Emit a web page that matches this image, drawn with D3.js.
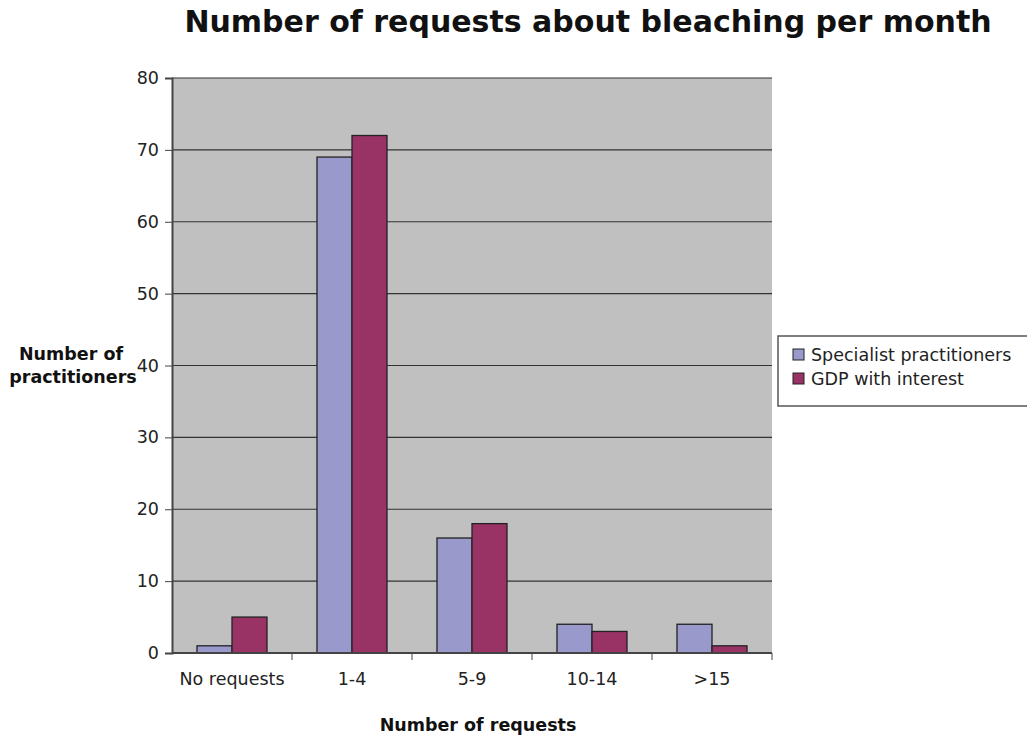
<!DOCTYPE html>
<html>
<head>
<meta charset="utf-8">
<script src="https://cdn.jsdelivr.net/npm/d3@7"></script>
<style>
  body { margin: 0; background: #fff; }
  text { font-family: "DejaVu Sans", Verdana, sans-serif; }
</style>
</head>
<body>
<div id="chart"></div>
<script>
// Data
var categories = ["No requests", "1-4", "5-9", "10-14", ">15"];
var seriesNames = ["Specialist practitioners", "GDP with interest"];
var specialist = [1, 69, 16, 4, 4];
var gdp = [5, 72, 18, 3, 1];
var yTicks = [0, 10, 20, 30, 40, 50, 60, 70, 80];
var colors = ["#9999CC", "#993366"];

var svgWidth = 1027;
var svgHeight = 736;

var margin = { top: 78, right: 255, bottom: 83, left: 172 };
var width = svgWidth - margin.left - margin.right;   // 600
var height = svgHeight - margin.top - margin.bottom; // 575

var svg = d3.select("#chart")
  .append("svg")
  .attr("width", svgWidth)
  .attr("height", svgHeight);

var chartGroup = svg.append("g")
  .attr("transform", `translate(${margin.left}, ${margin.top})`);

var rows = categories.map(function (c, i) {
  return { cat: c, values: [specialist[i], gdp[i]] };
});

// Scales
var x0 = d3.scaleBand()
  .domain(categories)
  .range([0, width]);

var x1 = d3.scaleBand()
  .domain([0, 1])
  .range([25, x0.bandwidth() - 25]);

var y = d3.scaleLinear()
  .domain([0, 80])
  .range([height, 0]);

// Plot background
chartGroup.append("rect")
  .attr("width", width)
  .attr("height", height)
  .attr("fill", "#C0C0C0");

// Gridlines
chartGroup.append("g")
  .selectAll("line")
  .data(yTicks.filter(d => d > 0))
  .enter()
  .append("line")
  .attr("x1", 0)
  .attr("x2", width)
  .attr("y1", d => y(d))
  .attr("y2", d => y(d))
  .attr("stroke", "#333")
  .attr("stroke-width", 1.2);

// Bars
var groups = chartGroup.selectAll("g.cat")
  .data(rows)
  .enter()
  .append("g")
  .attr("class", "cat")
  .attr("transform", d => `translate(${x0(d.cat)}, 0)`);

groups.selectAll("rect")
  .data(d => d.values)
  .enter()
  .append("rect")
  .attr("x", (d, i) => x1(i))
  .attr("y", d => y(d))
  .attr("width", x1.bandwidth())
  .attr("height", d => y(0) - y(d))
  .attr("fill", (d, i) => colors[i])
  .attr("stroke", "#222")
  .attr("stroke-width", 1.3);

// Y axis
var yAxis = d3.axisLeft(y)
  .tickValues(yTicks)
  .tickSize(7)
  .tickPadding(6);

var yAxisG = chartGroup.append("g")
  .call(yAxis);
yAxisG.select(".domain").attr("stroke", "#444").attr("stroke-width", 2);
yAxisG.selectAll(".tick line").attr("stroke", "#444");
yAxisG.selectAll(".tick text")
  .attr("font-size", 17.5)
  .attr("fill", "#222")
  .style("font-family", "DejaVu Sans, Verdana, sans-serif");

// X axis (ticks at category boundaries)
var xAxisG = chartGroup.append("g")
  .attr("transform", `translate(0, ${height})`);

xAxisG.append("line")
  .attr("x1", 0)
  .attr("x2", width)
  .attr("stroke", "#444")
  .attr("stroke-width", 2);

xAxisG.selectAll("line.tick")
  .data(categories)
  .enter()
  .append("line")
  .attr("class", "tick")
  .attr("x1", d => x0(d) + x0.bandwidth())
  .attr("x2", d => x0(d) + x0.bandwidth())
  .attr("y1", 0)
  .attr("y2", 7)
  .attr("stroke", "#444");

xAxisG.selectAll("text")
  .data(categories)
  .enter()
  .append("text")
  .attr("x", d => x0(d) + x0.bandwidth() / 2)
  .attr("y", 32)
  .attr("text-anchor", "middle")
  .attr("font-size", 17.5)
  .attr("fill", "#222")
  .text(d => d);

// Title
svg.append("text")
  .attr("x", 588)
  .attr("y", 32)
  .attr("text-anchor", "middle")
  .attr("font-size", 30)
  .attr("font-weight", "bold")
  .attr("fill", "#111")
  .text("Number of requests about bleaching per month");

// Axis titles
var yTitle = svg.append("text")
  .attr("text-anchor", "middle")
  .attr("font-size", 17.5)
  .attr("font-weight", "bold")
  .attr("fill", "#111");
yTitle.append("tspan").attr("x", 71).attr("y", 360).text("Number of");
yTitle.append("tspan").attr("x", 73).attr("y", 383).text("practitioners");

svg.append("text")
  .attr("x", 478)
  .attr("y", 731)
  .attr("text-anchor", "middle")
  .attr("font-size", 17.5)
  .attr("font-weight", "bold")
  .attr("fill", "#111")
  .text("Number of requests");

// Legend
var legend = svg.append("g")
  .attr("transform", "translate(778, 336)");

legend.append("rect")
  .attr("width", 260)
  .attr("height", 70)
  .attr("fill", "#fff")
  .attr("stroke", "#555")
  .attr("stroke-width", 1.5);

var items = legend.selectAll("g.item")
  .data(seriesNames)
  .enter()
  .append("g")
  .attr("class", "item")
  .attr("transform", (d, i) => `translate(15, ${13 + i * 24})`);

items.append("rect")
  .attr("width", 11)
  .attr("height", 11)
  .attr("fill", (d, i) => colors[i])
  .attr("stroke", "#222");

items.append("text")
  .attr("x", 18)
  .attr("y", 12)
  .attr("font-size", 17.5)
  .attr("fill", "#222")
  .text(d => d);
</script>
</body>
</html>
